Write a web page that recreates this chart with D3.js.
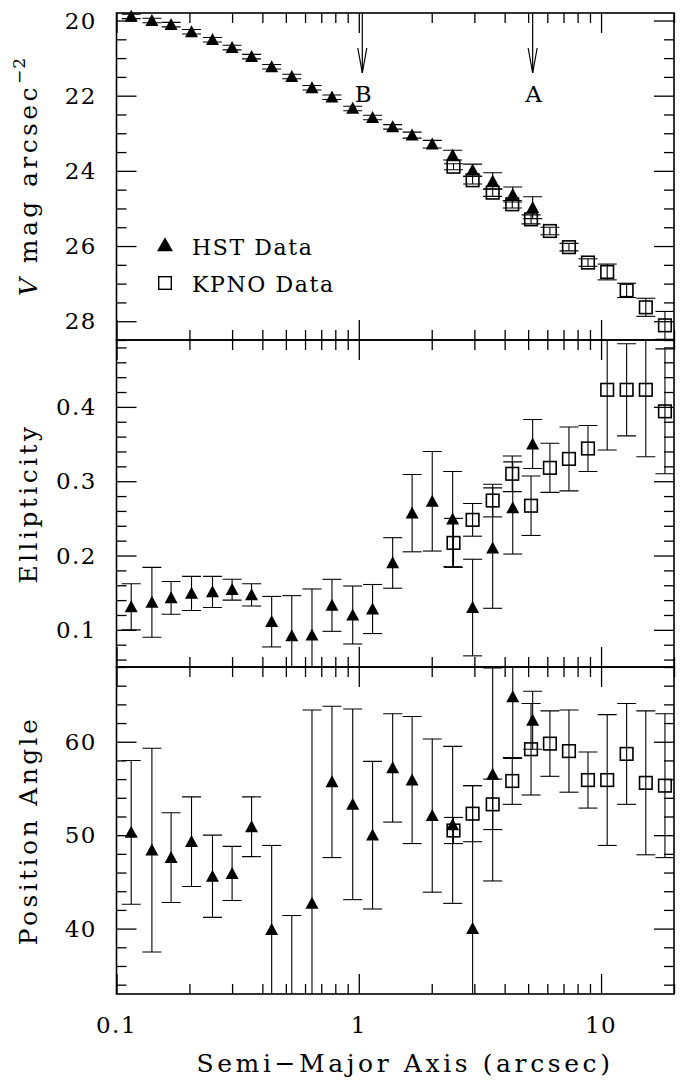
<!DOCTYPE html>
<html>
<head>
<meta charset="utf-8">
<script src="https://cdn.jsdelivr.net/npm/d3@7"></script>
<style>
  html, body { margin: 0; padding: 0; background: #fff; }
  svg { display: block; }
  text { font-family: "DejaVu Serif", "Liberation Serif", serif; fill: #000; }
</style>
</head>
<body>
<svg id="chart" width="695" height="1080"></svg>
<script>
// ---------------- DATA ----------------
const hstX = [0.115, 0.140, 0.168, 0.204, 0.249, 0.300, 0.361, 0.437, 0.529, 0.641, 0.775,
              0.944, 1.14, 1.38, 1.66, 2.01, 2.44, 2.95, 3.57, 4.32, 5.22];
const hstMag = [19.89, 20.00, 20.11, 20.30, 20.51, 20.72, 20.96, 21.23, 21.49, 21.79, 22.04,
                22.34, 22.58, 22.83, 23.05, 23.29, 23.58, 23.98, 24.27, 24.63, 24.98];
const hstMagErr = [0.06, 0.06, 0.06, 0.06, 0.06, 0.06, 0.06, 0.06, 0.06, 0.06, 0.06,
                   0.06, 0.06, 0.06, 0.08, 0.10, 0.13, 0.16, 0.22, 0.20, 0.29];
const hstEll = [0.131, 0.137, 0.143, 0.149, 0.151, 0.154, 0.147, 0.111, 0.092, 0.093, 0.133,
                0.120, 0.128, 0.190, 0.257, 0.273, 0.249, 0.130, 0.210, 0.264, 0.350];
const hstEllErr = [0.031, 0.047, 0.022, 0.023, 0.021, 0.014, 0.015, 0.034, 0.054, 0.062, 0.035,
                   0.039, 0.033, 0.034, 0.052, 0.067, 0.064, 0.065, 0.081, 0.062, 0.033];
const hstPA = [50.3, 48.4, 47.6, 49.3, 45.6, 45.9, 50.9, 39.9, 31.5, 42.7, 55.7,
               53.3, 50.0, 57.2, 55.9, 52.1, 51.1, 40.0, 56.5, 64.8, 62.3];
const hstPAErr = [7.7, 10.9, 4.8, 4.8, 4.4, 2.9, 3.2, 9.0, 9.9, 20.7, 8.1,
                  10.2, 7.9, 5.8, 6.8, 8.2, 8.4, 15.3, 11.4, 6.6, 3.1];

const kpnoX = [2.46, 2.95, 3.57, 4.30, 5.14, 6.15, 7.37, 8.83, 10.6, 12.75, 15.3, 18.35];
const kpnoMag = [23.89, 24.25, 24.58, 24.89, 25.29, 25.60, 26.03, 26.44, 26.69, 27.18, 27.63, 28.11];
const kpnoMagErr = [0.08, 0.10, 0.10, 0.10, 0.12, 0.10, 0.10, 0.10, 0.21, 0.19, 0.24, 0.37];
const kpnoEll = [0.217, 0.248, 0.274, 0.310, 0.267, 0.318, 0.330, 0.344, 0.423, 0.423, 0.423, 0.394];
const kpnoEllErr = [0.033, 0.022, 0.022, 0.024, 0.040, 0.033, 0.043, 0.031, 0.081, 0.062, 0.090, 0.084];
const kpnoPA = [50.5, 52.3, 53.3, 55.8, 59.2, 59.8, 59.0, 55.9, 55.9, 58.7, 55.6, 55.3];
const kpnoPAErr = [1.4, 3.0, 2.7, 2.5, 4.9, 3.5, 4.4, 3.0, 7.0, 5.4, 7.7, 7.7];

const xMajorTicks = [0.1, 1, 10];
const xMinorTicks = [0.2, 0.3, 0.4, 0.5, 0.6, 0.7, 0.8, 0.9, 2, 3, 4, 5, 6, 7, 8, 9, 20];
const xTickLabels = ["0.1", "1", "10"];

const magMajorTicks = [20, 22, 24, 26, 28];
const ellMajorTicks = [0.1, 0.2, 0.3, 0.4];
const paMajorTicks = [40, 50, 60];

const arrowLabels = ["B", "A"];
const arrowX = [1.034, 5.22];

const legendLabels = ["HST Data", "KPNO Data"];

// ---------------- LAYOUT ----------------
const svg = d3.select("#chart");
const L = 116.5, R = 674;
const x = d3.scaleLog().domain([0.1, 20]).range([L, R]);

const range = (a, b, s) => { const out = []; for (let v = a; v <= b + 1e-9; v += s) out.push(+v.toFixed(4)); return out; };

const panels = [
  { key: "mag", top: 13, bottom: 340, domain: [19.8, 28.5], inverted: true, clipTopExtra: 8,
    major: magMajorTicks, minor: range(20, 28.5, 0.5).filter(v => !magMajorTicks.includes(v)), fmt: d3.format("d"),
    hst: [hstMag, hstMagErr], kpno: [kpnoMag, kpnoMagErr] },
  { key: "ell", top: 340, bottom: 667, domain: [0.05, 0.49], clipTopExtra: 0,
    major: ellMajorTicks, minor: range(0.06, 0.48, 0.02).filter(v => !ellMajorTicks.some(m => Math.abs(m - v) < 1e-6)), fmt: d3.format(".1f"),
    hst: [hstEll, hstEllErr], kpno: [kpnoEll, kpnoEllErr] },
  { key: "pa", top: 667, bottom: 994, domain: [33, 68], clipTopExtra: 0,
    major: paMajorTicks, minor: range(34, 68, 2).filter(v => !paMajorTicks.includes(v)), fmt: d3.format("d"),
    hst: [hstPA, hstPAErr], kpno: [kpnoPA, kpnoPAErr] }
];

const MAJ = 20, MIN = 10;
const tickStroke = 1.3;

const triPath = (w, h) => `M0,${-h * 0.55}L${w / 2},${h * 0.45}L${-w / 2},${h * 0.45}Z`;

panels.forEach((p, i) => {
  const y = d3.scaleLinear()
    .domain(p.domain)
    .range(p.inverted ? [p.top, p.bottom] : [p.bottom, p.top]);
  p.y = y;
  const g = svg.append("g").attr("class", "panel-" + p.key);

  const styleAxis = sel => {
    sel.select(".domain").remove();
    sel.selectAll(".tick line").attr("stroke", "#000").attr("stroke-width", tickStroke);
  };

  [[xMajorTicks, MAJ], [xMinorTicks, MIN]].forEach(([vals, len]) => {
    g.append("g").attr("transform", `translate(0,${p.bottom})`)
      .call(d3.axisBottom(x).tickValues(vals).tickSize(-len).tickFormat(""))
      .call(styleAxis).selectAll("text").remove();
    g.append("g").attr("transform", `translate(0,${p.top})`)
      .call(d3.axisTop(x).tickValues(vals).tickSize(-len).tickFormat(""))
      .call(styleAxis).selectAll("text").remove();
  });
  [[p.major, MAJ], [p.minor, MIN]].forEach(([vals, len]) => {
    g.append("g").attr("transform", `translate(${L},0)`)
      .call(d3.axisLeft(y).tickValues(vals).tickSize(-len).tickFormat(""))
      .call(styleAxis).selectAll("text").remove();
    g.append("g").attr("transform", `translate(${R},0)`)
      .call(d3.axisRight(y).tickValues(vals).tickSize(-len).tickFormat(""))
      .call(styleAxis).selectAll("text").remove();
  });

  // y tick labels
  g.selectAll("text.ylab").data(p.major).join("text")
    .attr("class", "ylab")
    .attr("x", 97).attr("y", d => y(d))
    .attr("dy", "0.36em")
    .attr("text-anchor", "end")
    .style("font-size", "23px")
    .style("letter-spacing", "1.5px")
    .text(d => p.fmt(d));

  // frame
  g.append("rect")
    .attr("x", L).attr("y", p.top)
    .attr("width", R - L).attr("height", p.bottom - p.top)
    .attr("fill", "none").attr("stroke", "#000").attr("stroke-width", 1.6);

  // clip
  const cid = "clip-" + p.key;
  svg.append("clipPath").attr("id", cid).append("rect")
    .attr("x", L).attr("y", p.top - p.clipTopExtra).attr("width", R - L)
    .attr("height", p.bottom - p.top + p.clipTopExtra);
  const dg = g.append("g").attr("clip-path", `url(#${cid})`);

  const drawSeries = (xs, vals, errs, kind) => {
    const data = xs.map((xv, k) => ({ x: xv, v: vals[k], e: errs[k] }));
    const eg = dg.append("g").attr("stroke", "#000").attr("stroke-width", 1.1).attr("fill", "none");
    data.forEach(d => {
      const cx = x(d.x), y1 = y(d.v - d.e), y2 = y(d.v + d.e);
      eg.append("line").attr("x1", cx).attr("x2", cx).attr("y1", y1).attr("y2", y2);
      eg.append("line").attr("x1", cx - 9.5).attr("x2", cx + 9.5).attr("y1", y1).attr("y2", y1);
      eg.append("line").attr("x1", cx - 9.5).attr("x2", cx + 9.5).attr("y1", y2).attr("y2", y2);
    });
    if (kind === "tri") {
      dg.append("g").selectAll("path").data(data).join("path")
        .attr("d", triPath(13, 12))
        .attr("transform", d => `translate(${x(d.x)},${y(d.v)})`)
        .attr("fill", "#000");
    } else {
      dg.append("g").selectAll("rect").data(data).join("rect")
        .attr("x", d => x(d.x) - 6.3).attr("y", d => y(d.v) - 6.3)
        .attr("width", 12.6).attr("height", 12.6)
        .attr("fill", "none").attr("stroke", "#000").attr("stroke-width", 1.6);
    }
  };
  drawSeries(kpnoX, p.kpno[0], p.kpno[1], "sq");
  drawSeries(hstX, p.hst[0], p.hst[1], "tri");
});

// x tick labels
svg.selectAll("text.xlab").data(xMajorTicks).join("text")
  .attr("class", "xlab")
  .attr("x", d => x(d)).attr("y", 1033)
  .attr("text-anchor", "middle")
  .style("font-size", "23px")
  .style("letter-spacing", "1.5px")
  .text((d, i) => xTickLabels[i]);

// x axis title
svg.append("text")
  .attr("x", 405).attr("y", 1072)
  .attr("text-anchor", "middle")
  .style("font-size", "25px")
  .style("letter-spacing", "3.6px")
  .text("Semi\u2212Major Axis (arcsec)");

// y axis titles
const ytitle = (cy, build) => {
  const t = svg.append("text")
    .attr("transform", `translate(37,${cy}) rotate(-90)`)
    .attr("text-anchor", "middle")
    .style("font-size", "25px")
    .style("letter-spacing", "3.4px");
  build(t);
};
ytitle((panels[0].top + panels[0].bottom) / 2, t => {
  t.append("tspan").style("font-style", "italic").text("V");
  t.append("tspan").text(" mag arcsec");
  t.append("tspan").attr("dy", -12).style("font-size", "17px").style("letter-spacing", "1px").text("\u22122");
});
ytitle((panels[1].top + panels[1].bottom) / 2, t => t.text("Ellipticity"));
ytitle((panels[2].top + panels[2].bottom) / 2, t => t.text("Position Angle"));

// arrows with labels (panel 1)
const top0 = panels[0].top;
arrowX.forEach((xv, i) => {
  const cx = x(xv);
  const ag = svg.append("g").attr("stroke", "#000").attr("stroke-width", 1.2).attr("fill", "none");
  ag.append("line").attr("x1", cx).attr("x2", cx).attr("y1", top0).attr("y2", top0 + 60);
  ag.append("path").attr("d", `M${cx - 4.5},${top0 + 35}L${cx},${top0 + 60}L${cx + 4.5},${top0 + 35}`);
  svg.append("text")
    .attr("x", cx + 1).attr("y", top0 + 89)
    .attr("text-anchor", "middle")
    .style("font-size", "23px")
    .text(arrowLabels[i]);
});

// legend
const lg = svg.append("g");
lg.append("path").attr("d", triPath(16, 14)).attr("transform", "translate(165,245)").attr("fill", "#000");
lg.append("rect").attr("x", 165 - 6.3).attr("y", 283 - 6.3).attr("width", 12.6).attr("height", 12.6)
  .attr("fill", "none").attr("stroke", "#000").attr("stroke-width", 1.4);
lg.selectAll("text").data(legendLabels).join("text")
  .attr("x", 192).attr("y", (d, i) => 255 + i * 37)
  .style("font-size", "22px")
  .style("letter-spacing", "1.6px")
  .text(d => d);
</script>
</body>
</html>
